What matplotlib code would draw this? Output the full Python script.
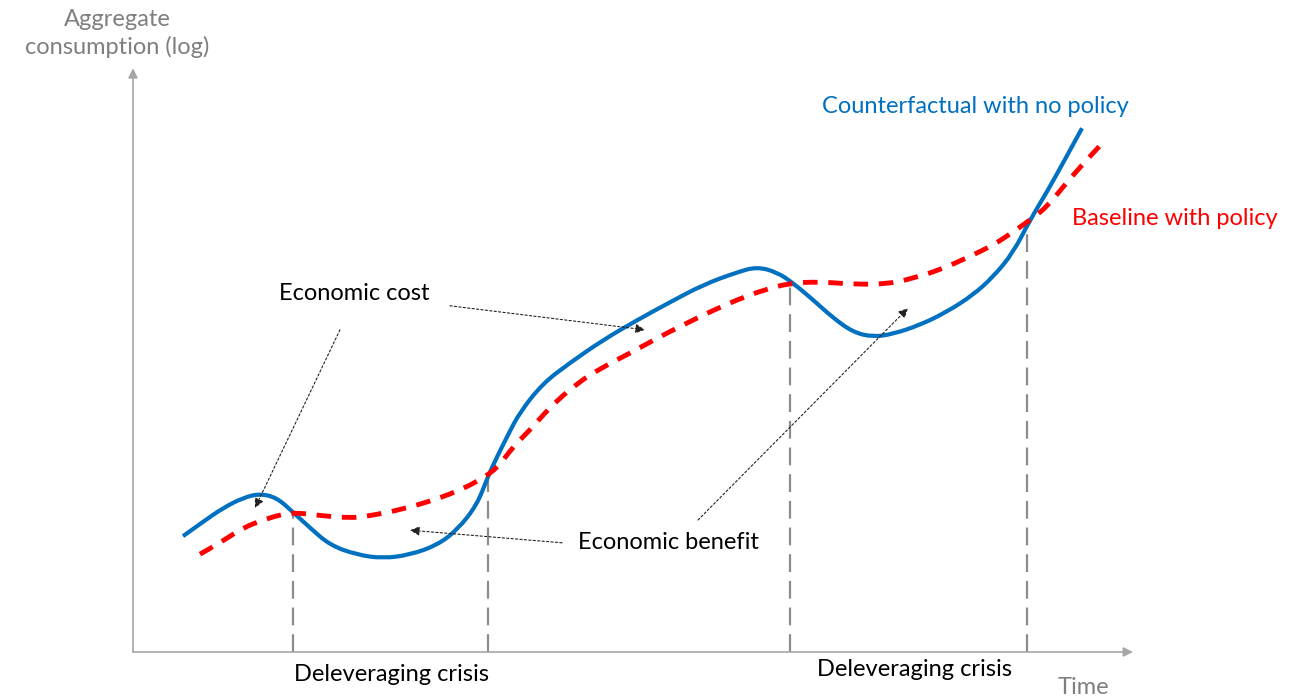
import numpy as np
import matplotlib
matplotlib.use("Agg")
import matplotlib.pyplot as plt
from matplotlib.path import Path
from matplotlib.patches import PathPatch

plt.rcParams['font.family'] = ['Lato', 'DejaVu Sans']

# time (0-100) and log consumption (arbitrary units)
t_counter = [5.0, 7.0, 9.0, 11.0, 12.7, 14.4, 16.0, 17.7, 19.7, 22.4, 25.0, 27.7,
             30.4, 32.4, 34.4, 35.5, 36.4, 37.5, 38.7, 41.0, 43.7, 47.0, 50.4, 53.7,
             57.0, 60.4, 62.4, 64.4, 66.0, 68.0, 70.0, 72.0, 74.0, 76.0, 78.7, 81.4,
             84.0, 86.0, 88.0, 89.7, 91.4, 93.0, 94.9]
c_counter = [19.3, 21.7, 24.0, 25.7, 26.4, 25.7, 23.3, 20.7, 17.8, 16.2, 15.6, 16.2,
             17.8, 20.3, 24.5, 29.3, 32.5, 36.2, 40.0, 44.8, 48.2, 52.0, 55.3, 58.3,
             61.2, 63.3, 64.2, 63.3, 61.5, 58.7, 55.7, 53.3, 52.5, 53.0, 54.5, 56.7,
             59.5, 62.5, 66.5, 72.0, 76.7, 81.5, 87.3]

t_base = [6.7, 8.7, 11.0, 13.0, 15.0, 16.4, 18.4, 21.7, 23.7, 27.0, 30.4, 33.0,
          35.0, 36.5, 38.0, 39.7, 41.7, 44.4, 47.0, 49.7, 52.4, 55.0, 57.7, 60.4,
          63.0, 65.7, 68.7, 72.0, 75.4, 78.0, 80.7, 83.4, 86.0, 88.0, 89.7, 91.4,
          93.0, 94.7, 97.2]
c_base = [16.3, 18.2, 20.7, 22.0, 23.0, 23.2, 22.8, 22.3, 22.7, 23.8, 25.5, 27.2,
          29.0, 30.8, 34.2, 37.0, 40.8, 44.8, 47.5, 49.8, 52.3, 54.5, 56.7, 58.7,
          60.3, 61.5, 61.7, 61.3, 61.3, 62.3, 63.7, 65.7, 67.8, 70.0, 72.0, 74.2,
          77.5, 80.8, 85.3]

crisis_t = [16.0, 35.5, 65.7, 89.4]
crisis_c = [23.2, 29.5, 61.5, 72.0]

blue = '#0070C0'
red = '#FF0000'
grey = '#7F7F7F'


def smooth_path(x, y):
    # quadratic bezier pieces using the read points as control points
    pts = np.column_stack([x, y])
    verts = [pts[0]]
    codes = [Path.MOVETO]
    for i in range(1, len(pts) - 1):
        verts += [pts[i], (pts[i] + pts[i + 1]) / 2]
        codes += [Path.CURVE3, Path.CURVE3]
    verts.append(pts[-1])
    codes.append(Path.LINETO)
    return Path(verts, codes)


fig = plt.figure(figsize=(13.07, 6.98), dpi=100)
ax = fig.add_axes([0, 0, 1, 1])
ax.set_xlim(-13.3, 117.4)
ax.set_ylim(-7.67, 108.67)
ax.axis('off')

# axes with arrows
ax.annotate('', xy=(100, 0), xytext=(0, 0),
            arrowprops=dict(arrowstyle='-|>', color='#A6A6A6', lw=1.2,
                            mutation_scale=14, shrinkA=0, shrinkB=0))
ax.annotate('', xy=(0, 97.3), xytext=(0, 0),
            arrowprops=dict(arrowstyle='-|>', color='#A6A6A6', lw=1.2,
                            mutation_scale=14, shrinkA=0, shrinkB=0))

# crisis markers
ax.vlines(crisis_t, 0, crisis_c, colors='#8C8C8C', lw=1.6, linestyles=(0, (8, 4)))

ax.add_patch(PathPatch(smooth_path(t_counter, c_counter), fill=False, edgecolor=blue,
                       lw=3, capstyle='butt', joinstyle='round', zorder=3))
ax.add_patch(PathPatch(smooth_path(t_base, c_base), fill=False, edgecolor=red,
                       lw=3.5, linestyle=(0, (3, 2.2)), capstyle='butt', zorder=4))

# annotation arrows
arrow_kw = dict(arrowstyle='-|>', color='#222222', lw=0.8, linestyle=(0, (2, 2)),
                mutation_scale=14, shrinkA=0, shrinkB=0)
ax.annotate('', xy=(12.2, 24.0), xytext=(20.7, 53.7), arrowprops=arrow_kw)
ax.annotate('', xy=(51.2, 53.7), xytext=(31.7, 57.7), arrowprops=arrow_kw)
ax.annotate('', xy=(27.7, 20.3), xytext=(42.9, 18.2), arrowprops=arrow_kw)
ax.annotate('', xy=(77.5, 57.3), xytext=(56.5, 22.0), arrowprops=arrow_kw)

fs = 17
ax.text(14.6, 59.7, 'Economic cost', fontsize=fs, color='black', va='center')
ax.text(44.5, 18.2, 'Economic benefit', fontsize=fs, color='black', va='center')
ax.text(16.1, -3.7, 'Deleveraging crisis', fontsize=fs, color='black', va='center')
ax.text(68.4, -3.0, 'Deleveraging crisis', fontsize=fs, color='black', va='center')
ax.text(68.9, 91.0, 'Counterfactual with no policy', fontsize=fs, color=blue, va='center')
ax.text(93.9, 72.2, 'Baseline with policy', fontsize=fs, color=red, va='center')
ax.text(95.0, -6.0, 'Time', fontsize=fs, color=grey, ha='center', va='center')
ax.text(-1.6, 103.1, 'Aggregate\nconsumption (log)', fontsize=fs, color=grey,
        ha='center', va='center', linespacing=1.35)

fig.savefig('out.png', dpi=100)
